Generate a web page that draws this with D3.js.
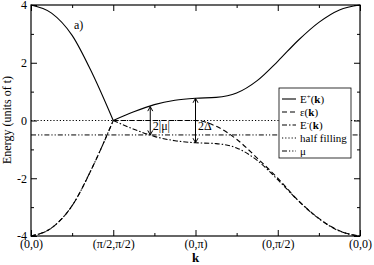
<!DOCTYPE html>
<html>
  <head>
    <title>Energy bands along k path</title>
    <style>
      body { margin: 0; background: #fff; }
      text { font-family: "Liberation Serif", "DejaVu Serif", serif; fill: #000; }
      .axis path { display: none; }
      .axis line { stroke: #000; stroke-width: 1; }
    </style>
  </head>
  <body>
    <div id="chart"></div>

    <script src="https://d3js.org/d3.v7.min.js" type="text/javascript"></script>

<script>

  // k path positions (segment units) and tick labels
  var kTicks = [0, 1, 2, 3, 4];
  var kLabels = ["(0,0)", "(\u03c0/2,\u03c0/2)", "(0,\u03c0)", "(0,\u03c0/2)", "(0,0)"];
  var kPos = [0, 0.25, 0.5, 0.75, 1, 1.25, 1.5, 1.75, 2, 2.25, 2.5, 2.75, 3, 3.25, 3.5, 3.75, 4];

  // bands
  var ePlus  = [4, 3.72, 2.95, 1.6, 0, 0.3, 0.55, 0.7, 0.77, 0.8, 0.95, 1.38, 2.05, 2.78, 3.40, 3.83, 4];
  var epsK   = [-4, -3.72, -2.95, -1.6, 0, 0, 0, 0, 0, -0.2, -0.65, -1.3, -2.0, -2.77, -3.39, -3.82, -4];
  var eMinus = [-4, -3.72, -2.95, -1.6, 0, -0.3, -0.55, -0.7, -0.77, -0.8, -0.95, -1.38, -2.05, -2.78, -3.40, -3.83, -4];

  var halfFilling = 0;
  var mu = -0.5;

  var yTicks = [-4, -2, 0, 2, 4];
  var yMinor = [-3, -1, 1, 3];
  var kMinor = [0.5, 1.5, 2.5, 3.5];

  // gap arrows: k position, top, bottom, label
  var arrowK = [1.45, 2];
  var arrowTop = [0.48, 0.77];
  var arrowBottom = [-0.5, -0.77];
  var arrowLabels = ["2|\u03bc|", "2\u0394"];

  var legendNames = ["E+", "eps", "E-", "half filling", "\u03bc"];

  var margin = {top: 5, right: 14, bottom: 29, left: 31},
    width = 374 - margin.left - margin.right,
    height = 236 - margin.top;

  var svg = d3.select('#chart')
    .append('svg')
    .attr("width", 374)
    .attr("height", 265);

  var g = svg.append("g")
    .attr("transform", "translate(" + margin.left + "," + margin.top + ")");

  var x = d3.scaleLinear().domain([0, 4]).range([0, width]);
  var y = d3.scaleLinear().domain([-4, 4]).range([height, 0]);

  var dashes = {
    solid: null,
    dashed: "5,3",
    dashdot: "5,2,1.5,2",
    dotted: "1.2,2",
    dashdotdot: "5,2,1.2,2,1.2,2"
  };

  // horizontal reference lines
  g.append("line")
    .attr("x1", 0).attr("x2", width)
    .attr("y1", y(halfFilling)).attr("y2", y(halfFilling))
    .attr("stroke", "#000").attr("stroke-width", 1)
    .attr("stroke-dasharray", dashes.dotted);

  g.append("line")
    .attr("x1", 0).attr("x2", width)
    .attr("y1", y(mu)).attr("y2", y(mu))
    .attr("stroke", "#000").attr("stroke-width", 1)
    .attr("stroke-dasharray", dashes.dashdotdot);

  var line = d3.line()
    .x(function(d){return x(d[0]);})
    .y(function(d){return y(d[1]);})
    .curve(d3.curveMonotoneX);

  // split each band at the node so the kink stays sharp
  function pieces(vals) {
    var pts = kPos.map(function(k, i){return [k, vals[i]];});
    return [pts.slice(0, 5), pts.slice(4)];
  }

  var bands = [
    {vals: epsK, dash: dashes.dashed},
    {vals: eMinus, dash: dashes.dashdot},
    {vals: ePlus, dash: dashes.solid}
  ];

  bands.forEach(function(b) {
    pieces(b.vals).forEach(function(p) {
      g.append("path")
        .attr("d", line(p))
        .attr("fill", "none")
        .attr("stroke", "#000")
        .attr("stroke-width", 1.1)
        .attr("stroke-dasharray", b.dash);
    });
  });

  // arrows
  arrowK.forEach(function(k, i) {
    var ax = x(k), y1 = y(arrowTop[i]), y2 = y(arrowBottom[i]);
    g.append("line")
      .attr("x1", ax).attr("x2", ax).attr("y1", y1).attr("y2", y2)
      .attr("stroke", "#000").attr("stroke-width", 1);
    g.append("path")
      .attr("d", "M" + (ax - 2.5) + "," + (y1 + 4.5) + "L" + ax + "," + y1 + "L" + (ax + 2.5) + "," + (y1 + 4.5))
      .attr("fill", "none").attr("stroke", "#000").attr("stroke-width", 1);
    g.append("path")
      .attr("d", "M" + (ax - 2.5) + "," + (y2 - 4.5) + "L" + ax + "," + y2 + "L" + (ax + 2.5) + "," + (y2 - 4.5))
      .attr("fill", "none").attr("stroke", "#000").attr("stroke-width", 1);
    g.append("text")
      .attr("x", ax + 2.5)
      .attr("y", y((arrowTop[i] + arrowBottom[i]) / 2) + 5 + 4)
      .attr("font-size", "12px")
      .text(arrowLabels[i]);
  });

  // axes with inward ticks
  g.append("g")
    .attr("class", "axis")
    .attr("transform", "translate(0," + height + ")")
    .call(d3.axisBottom(x).tickValues(kTicks).tickSize(-6).tickPadding(3)
      .tickFormat(function(d, i){return kLabels[i];}))
    .selectAll("text").attr("font-size", "12px").attr("font-family", "Liberation Serif");

  g.append("g")
    .attr("class", "axis")
    .attr("transform", "translate(0," + height + ")")
    .call(d3.axisBottom(x).tickValues(kMinor).tickSize(-3).tickFormat(""));

  g.append("g")
    .attr("class", "axis")
    .call(d3.axisTop(x).tickValues(kTicks).tickSize(-6).tickFormat(""));

  g.append("g")
    .attr("class", "axis")
    .call(d3.axisTop(x).tickValues(kMinor).tickSize(-3).tickFormat(""));

  g.append("g")
    .attr("class", "axis")
    .call(d3.axisLeft(y).tickValues(yTicks).tickSize(-6).tickPadding(4)
      .tickFormat(function(d){return String(d);}))
    .selectAll("text").attr("font-size", "12px").attr("font-family", "Liberation Serif");

  g.append("g")
    .attr("class", "axis")
    .call(d3.axisLeft(y).tickValues(yMinor).tickSize(-3).tickFormat(""));

  g.append("g")
    .attr("class", "axis")
    .attr("transform", "translate(" + width + ",0)")
    .call(d3.axisRight(y).tickValues(yTicks).tickSize(-6).tickFormat(""));

  g.append("g")
    .attr("class", "axis")
    .attr("transform", "translate(" + width + ",0)")
    .call(d3.axisRight(y).tickValues(yMinor).tickSize(-3).tickFormat(""));

  g.append("rect")
    .attr("width", width).attr("height", height)
    .attr("fill", "none").attr("stroke", "#000").attr("stroke-width", 1.2);

  // legend
  var legend = g.append("g").attr("transform", "translate(" + (279 - margin.left) + "," + (88 - margin.top) + ")");
  legend.append("rect")
    .attr("width", 72).attr("height", 70)
    .attr("fill", "#fff").attr("stroke", "#000").attr("stroke-width", 0.8);

  var legendDash = [dashes.solid, dashes.dashed, dashes.dashdot, dashes.dotted, dashes.dashdotdot];

  legendNames.forEach(function(name, i) {
    var ly = 11 + i * 13;
    legend.append("line")
      .attr("x1", 3).attr("x2", 17).attr("y1", ly).attr("y2", ly)
      .attr("stroke", "#000").attr("stroke-width", 1.1)
      .attr("stroke-dasharray", legendDash[i]);
    var t = legend.append("text")
      .attr("x", 21).attr("y", ly + 4)
      .attr("font-size", "11px");
    if (name === "E+" || name === "E-") {
      t.append("tspan").text("E");
      t.append("tspan").attr("dy", -4).attr("font-size", "7px").text(name === "E+" ? "+" : "-");
      t.append("tspan").attr("dy", 4).text("(");
      t.append("tspan").attr("font-weight", "bold").text("k");
      t.append("tspan").text(")");
    } else if (name === "eps") {
      t.append("tspan").text("\u03b5(");
      t.append("tspan").attr("font-weight", "bold").text("k");
      t.append("tspan").text(")");
    } else {
      t.text(name);
    }
  });

  // labels
  g.append("text")
    .attr("x", 74 - margin.left).attr("y", 29 - margin.top)
    .attr("font-size", "12px")
    .text("a)");

  svg.append("text")
    .attr("x", margin.left + width / 2).attr("y", 262)
    .attr("text-anchor", "middle")
    .attr("font-size", "13px").attr("font-weight", "bold")
    .text("k");

  svg.append("text")
    .attr("transform", "translate(11,120) rotate(-90)")
    .attr("text-anchor", "middle")
    .attr("font-size", "12px")
    .text("Energy (units of t)");

</script>
  </body>
</html>
